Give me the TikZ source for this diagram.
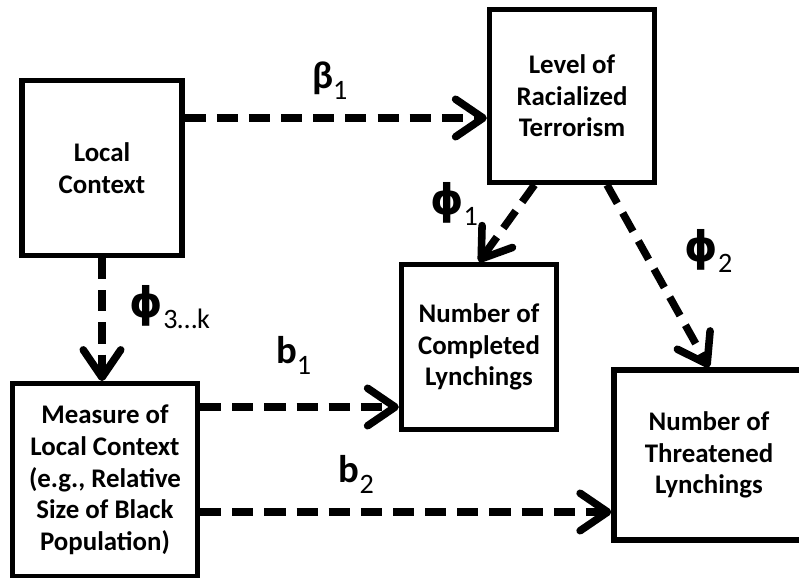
\documentclass[tikz,border=0pt]{standalone}
\usepackage{fontspec}
\setmainfont{Carlito}
\newfontfamily\greekfont{DejaVu Sans}
\usetikzlibrary{positioning,arrows.meta,calc}
\newcommand{\coefidx}[2]{#1\raisebox{-0.22cm}{\fontsize{16}{16}\selectfont\mdseries #2}}
\newcommand{\phisym}{{\greekfont\fontsize{24}{26}\selectfont ϕ}}
\tikzset{
    base/.style={font=\bfseries\fontsize{15.3}{18}\selectfont, align=center},
    factor/.style={base, rectangle, draw=black, line width=3pt, inner sep=1mm},
    flow/.style={-{Straight Barb[length=5.5mm, width=7.5mm, round]}, line width=4.3pt,
                 dash pattern=on 12pt off 6.3pt, color=black},
    coef/.style={font=\bfseries\fontsize{22}{24}\selectfont, inner sep=0pt}
}
\begin{document}
\begin{tikzpicture}[x=0.02cm, y=-0.02cm]
  \clip (0,0) rectangle (799,578);
  % Boxes
  \node[factor, minimum width=3.2cm, minimum height=3.5cm] (ctx) at (102,168) {Local\\Context};
  \node[factor, minimum width=3.3cm, minimum height=3.45cm] (terr) at (572,96) {Level of\\Racialized\\Terrorism};
  \node[factor, minimum width=3.1cm, minimum height=3.3cm] (done) at (479,347) {Number of\\Completed\\Lynchings};
  \node[factor, minimum width=3.8cm, minimum height=3.4cm] (threat) at (709,455) {Number of\\Threatened\\Lynchings};
  \node[factor, minimum width=3.7cm, minimum height=3.85cm] (meas) at (105,480) {Measure of\\Local Context\\(e.g., Relative\\Size of Black\\Population)};

  % Start points of the arrows
  \coordinate (ctxout) at ([yshift=1cm]ctx.east);
  \coordinate (measup) at ([yshift=1.46cm]meas.east);
  \coordinate (measdown) at ([yshift=-0.64cm]meas.east);
  \coordinate (terrleft) at ([xshift=-0.75cm]terr.south);
  \coordinate (terrright) at ([xshift=0.7cm]terr.south);

  % Arrows
  \draw[flow] (ctxout) -- node[coef, above=0.3cm, pos=0.48] (beta) {\coefidx{β}{1}} (ctxout -| terr.west);
  \draw[flow] (ctx.south) -- node[coef, right=0.48cm, pos=0.4] (phik) {\coefidx{\phisym}{3…k}} (ctx.south |- meas.north);
  \draw[flow] (terrleft) -- node[coef, left=0.78cm, pos=0.25] (phia) {\coefidx{\phisym}{1}} (done.north);
  \draw[flow] (terrright) -- node[coef, right=0.74cm, pos=0.36] (phib) {\coefidx{\phisym}{2}} (threat.north);
  \draw[flow] (measup) -- node[coef, above=0.58cm, pos=0.47] (ba) {\coefidx{b}{1}} (measup -| done.west);
  \draw[flow] (measdown) -- node[coef, above=0.3cm, pos=0.38] (bb) {\coefidx{b}{2}} (measdown -| threat.west);
\end{tikzpicture}
\end{document}
